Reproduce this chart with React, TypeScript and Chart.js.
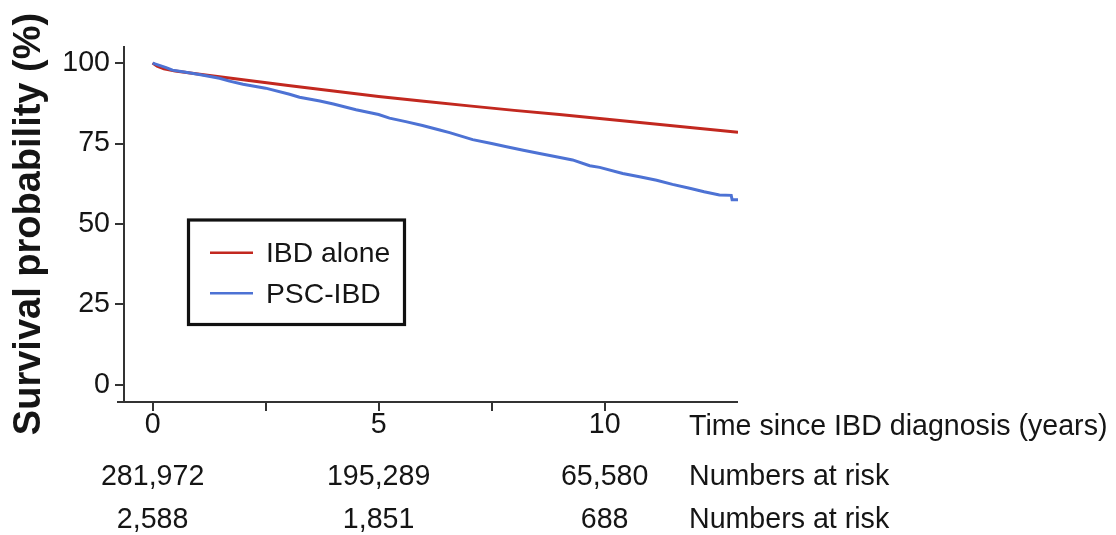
import React, { useEffect, useRef } from "react";
import { Chart, registerables } from "chart.js";

Chart.register(...registerables);

// ---- data ----
const seriesLabels = ["IBD alone", "PSC-IBD"];
const ibdYears = [0, 0.1, 0.25, 0.5, 1, 2, 3, 4, 5, 6, 7, 8, 9, 10, 11, 12, 12.95];
const ibdSurvival = [100, 99.0, 98.2, 97.5, 96.6, 94.8, 93.0, 91.3, 89.6, 88.1, 86.7, 85.3, 84.0, 82.6, 81.2, 79.8, 78.5];
const pscYears = [0, 0.15, 0.3, 0.44, 0.7, 1.0, 1.48, 1.7, 2.0, 2.5, 3.03, 3.25, 3.7, 4.0, 4.5, 5.0, 5.24, 5.6, 5.97, 6.35, 6.57, 7.08, 7.5, 7.83, 8.2, 8.56, 8.9, 9.29, 9.67, 9.89, 10.4, 10.8, 11.15, 11.5, 11.88, 12.2, 12.54, 12.8, 12.82, 12.95];
const pscSurvival = [100, 99.3, 98.6, 97.8, 97.2, 96.5, 95.3, 94.4, 93.4, 92.2, 90.3, 89.4, 88.2, 87.3, 85.5, 84.0, 82.9, 81.8, 80.6, 79.2, 78.4, 76.2, 75.0, 74.0, 72.9, 71.9, 71.0, 69.9, 68.1, 67.6, 65.7, 64.6, 63.6, 62.3, 61.1, 60.0, 59.0, 58.9, 57.5, 57.5];
const xTickValues = [0, 2.5, 5, 7.5, 10];
const xLabelValues = [0, 5, 10];
const yTickValues = [0, 25, 50, 75, 100];
const riskYears = [0, 5, 10];
const riskIBD = [281972, 195289, 65580];
const riskPSC = [2588, 1851, 688];
const xAxisLabel = "Time since IBD diagnosis (years)";
const yAxisLabel = "Survival probability (%)";
const riskLabel = "Numbers at risk";

// ---- style ----
const FAMILY = "'Liberation Sans', Arial, Helvetica, sans-serif";
const TEXT = "#151515";
const AXIS = "#333333";
const RED = "#c2281f";
const BLUE = "#4d72d4";
const FS = 28.6;

const extrasPlugin = {
  id: "kmExtras",
  afterDraw(chart: any) {
    const { ctx, chartArea, scales } = chart;
    const xs = scales.x;
    ctx.save();
    // axis lines
    ctx.strokeStyle = AXIS;
    ctx.lineWidth = 2;
    ctx.beginPath();
    ctx.moveTo(chartArea.left - 7, chartArea.bottom);
    ctx.lineTo(chartArea.right, chartArea.bottom);
    ctx.moveTo(chartArea.left, chartArea.top);
    ctx.lineTo(chartArea.left, chartArea.bottom);
    ctx.stroke();

    // x axis label at right of tick row
    ctx.fillStyle = TEXT;
    ctx.font = `${FS}px ${FAMILY}`;
    ctx.textBaseline = "alphabetic";
    ctx.textAlign = "left";
    const labelX = chartArea.right - 49;
    ctx.fillText(xAxisLabel, labelX, 435);
    ctx.fillText(riskLabel, labelX, 485);
    ctx.fillText(riskLabel, labelX, 528);

    // numbers at risk
    ctx.textAlign = "center";
    riskYears.forEach((yr, i) => {
      const px = xs.getPixelForValue(yr);
      ctx.fillText(riskIBD[i].toLocaleString("en-US"), px, 485);
      ctx.fillText(riskPSC[i].toLocaleString("en-US"), px, 528);
    });

    // legend box
    const bx = 188.5, by = 220, bw = 216, bh = 104.5;
    ctx.strokeStyle = "#111111";
    ctx.lineWidth = 3.2;
    ctx.strokeRect(bx, by, bw, bh);
    const ds = chart.data.datasets;
    const rows = [252.7, 293.3];
    ds.forEach((d: any, i: number) => {
      ctx.strokeStyle = d.borderColor;
      ctx.lineWidth = 2.6;
      ctx.beginPath();
      ctx.moveTo(210, rows[i]);
      ctx.lineTo(253, rows[i]);
      ctx.stroke();
      ctx.fillStyle = TEXT;
      ctx.textAlign = "left";
      ctx.font = `28.3px ${FAMILY}`;
      ctx.fillText(d.label, 266, rows[i] + 9.2);
    });
    ctx.restore();
  },
};

export default function App() {
  const ref = useRef<HTMLCanvasElement | null>(null);

  useEffect(() => {
    if (!ref.current) return;
    Chart.defaults.font.family = FAMILY;
    const chart = new Chart(ref.current, {
      type: "line",
      data: {
        datasets: [
          {
            label: seriesLabels[0],
            data: ibdYears.map((x, i) => ({ x, y: ibdSurvival[i] })),
            borderColor: RED,
            backgroundColor: RED,
            borderWidth: 3,
            pointRadius: 0,
            tension: 0,
            order: 2,
          },
          {
            label: seriesLabels[1],
            data: pscYears.map((x, i) => ({ x, y: pscSurvival[i] })),
            borderColor: BLUE,
            backgroundColor: BLUE,
            borderWidth: 3,
            pointRadius: 0,
            tension: 0,
            order: 1,
          },
        ],
      },
      options: {
        responsive: false,
        animation: false,
        layout: { padding: { left: 0, top: 46, right: 378, bottom: 93 } },
        plugins: {
          legend: { display: false },
          tooltip: { enabled: false },
          title: { display: false },
        },
        scales: {
          x: {
            type: "linear",
            min: -0.633,
            max: 12.95,
            afterBuildTicks: (s: any) => {
              s.ticks = xTickValues.map((v) => ({ value: v }));
            },
            afterFit: (s: any) => {
              s.height = 40;
            },
            ticks: {
              autoSkip: false,
              maxRotation: 0,
              padding: 0,
              color: TEXT,
              font: { size: FS, lineHeight: 1 },
              callback: (v: any) => (xLabelValues.includes(Number(v)) ? String(v) : ""),
            },
            grid: {
              drawOnChartArea: false,
              drawTicks: true,
              tickLength: 9,
              color: AXIS,
              lineWidth: 2,
            },
            border: { display: false },
          },
          y: {
            type: "linear",
            min: -5.3,
            max: 105.3,
            afterBuildTicks: (s: any) => {
              s.ticks = yTickValues.map((v) => ({ value: v }));
            },
            afterFit: (s: any) => {
              s.width = 124;
            },
            ticks: {
              padding: 5,
              color: TEXT,
              font: { size: FS, lineHeight: 1 },
            },
            grid: {
              drawOnChartArea: false,
              drawTicks: true,
              tickLength: 9,
              color: AXIS,
              lineWidth: 2,
            },
            border: { display: false },
            title: {
              display: true,
              text: yAxisLabel,
              color: TEXT,
              font: { size: 38, weight: "bold", lineHeight: 1.2 },
              padding: { top: 7, bottom: 0 },
            },
          },
        },
      },
      plugins: [extrasPlugin],
    } as any);
    return () => chart.destroy();
  }, []);

  return (
    <div style={{ position: "absolute", left: 0, top: 0, width: 1116, height: 535, background: "#fff" }}>
      <canvas ref={ref} width={1116} height={535} style={{ display: "block" }} />
    </div>
  );
}
